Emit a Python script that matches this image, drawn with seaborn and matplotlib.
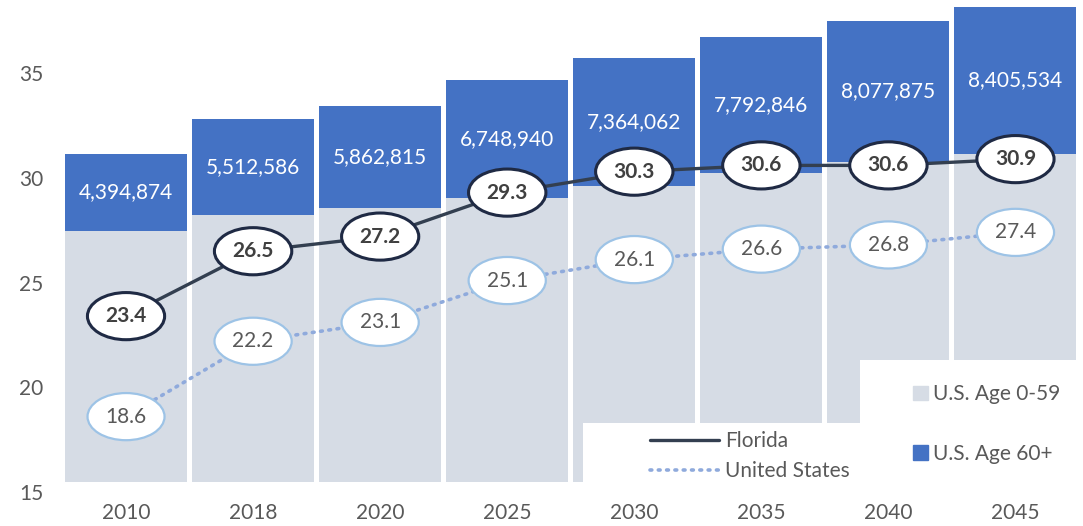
import numpy as np
import pandas as pd
import matplotlib
matplotlib.use('Agg')           # sin pantalla
import matplotlib.pyplot as plt
from matplotlib.lines import Line2D
from matplotlib.patches import Patch, Rectangle
import seaborn as sns

# ── Datos ─────────────────────────────────────────────────
anios       = ['2010', '2018', '2020', '2025', '2030', '2035', '2040', '2045']
pob_60_mas  = [4394874, 5512586, 5862815, 6748940, 7364062, 7792846, 8077875, 8405534]
pob_0_59    = [14390000, 15290000, 15690000, 16280000, 16940000, 17680000, 18320000, 18800000]
pct_florida = [23.4, 26.5, 27.2, 29.3, 30.3, 30.6, 30.6, 30.9]
pct_eeuu    = [18.6, 22.2, 23.1, 25.1, 26.1, 26.6, 26.8, 27.4]

df = pd.DataFrame({'anio': anios, 'menor60': pob_0_59, 'mayor60': pob_60_mas,
                   'florida': pct_florida, 'eeuu': pct_eeuu})
df['total'] = df['menor60'] + df['mayor60']

# ── Estilo ────────────────────────────────────────────────
sns.set_theme(style='white')
plt.rcParams['font.family'] = ['Lato', 'DejaVu Sans']

AZUL     = '#4472C4'
GRIS     = '#D6DCE5'
FL_LINEA = '#333F50'
FL_BORDE = '#1F2A44'
US_LINEA = '#8FAADC'
US_BORDE = '#9DC3E6'
TEXTO    = '#595959'

W, H = 1083, 526
fig = plt.figure(figsize=(W / 100, H / 100), dpi=100)
ax = fig.add_axes([62.5 / W, 1 - 492 / H, 1016.5 / W, 492 / H])
ax2 = ax.twinx()

# ── Barras (eje secundario, población) ────────────────────
sns.barplot(data=df, x='anio', y='total', color=AZUL, saturation=1,
            width=0.96, linewidth=0, ax=ax2)
sns.barplot(data=df, x='anio', y='menor60', color=GRIS, saturation=1,
            width=0.96, linewidth=0, ax=ax2)
for i, (b, s) in enumerate(zip(pob_0_59, pob_60_mas)):
    ax2.text(i, b + s / 2, f'{s:,}', ha='center', va='center',
             color='white', fontsize=15)
ax2.set_ylim(-0.573e6, 27.6e6)
ax2.axis('off')

# ── Líneas (eje principal, %) ─────────────────────────────
ax.set_zorder(ax2.get_zorder() + 1)
ax.patch.set_visible(False)
pos = np.arange(len(anios))
sns.lineplot(x=pos, y=df['florida'], color=FL_LINEA, linewidth=2.4, ax=ax)
sns.lineplot(x=pos, y=df['eeuu'], color=US_LINEA, linewidth=2.6,
             linestyle=(0, (0.5, 1.8)), dash_capstyle='round', ax=ax)

for i, v in enumerate(pct_florida):
    ax.text(i, v, f'{v:.1f}', ha='center', va='center', fontsize=15,
            color='#404040', fontweight='bold', zorder=6,
            bbox=dict(boxstyle='ellipse,pad=0.32', fc='white', ec=FL_BORDE, lw=2.2))
for i, v in enumerate(pct_eeuu):
    ax.text(i, v, f'{v:.1f}', ha='center', va='center', fontsize=15,
            color=TEXTO, zorder=6,
            bbox=dict(boxstyle='ellipse,pad=0.32', fc='white', ec=US_BORDE, lw=1.6))

ax.set_xlim(-0.5, len(anios) - 0.5)
ax.set_ylim(15, 38.5)
ax.set_yticks([15, 20, 25, 30, 35])
ax.set_xticks(pos)
ax.set_xticklabels(anios)
ax.set_xlabel('')
ax.set_ylabel('')
ax.tick_params(axis='both', length=0, labelsize=15, labelcolor=TEXTO)
ax.tick_params(axis='y', pad=14)
ax.tick_params(axis='x', pad=8)
for sp in ax.spines.values():
    sp.set_visible(False)

# ── Leyendas (cajas blancas sobre las barras) ─────────────
ax.add_patch(Rectangle((583 / W, 1 - 482 / H), (860 - 583) / W, (482 - 423) / H,
                       transform=fig.transFigure, fc='white', ec='none',
                       zorder=4, clip_on=False))
ax.add_patch(Rectangle((860 / W, 1 - 482 / H), (W - 860) / W, (482 - 360) / H,
                       transform=fig.transFigure, fc='white', ec='none',
                       zorder=4, clip_on=False))

h_lineas = [Line2D([], [], color=FL_LINEA, lw=2.4),
            Line2D([], [], color=US_LINEA, lw=2.6, linestyle=(0, (0.5, 1.8)),
                   dash_capstyle='round')]
leg1 = ax.legend(h_lineas, ['Florida', 'United States'], loc='upper left',
                 bbox_to_anchor=(640 / W, 1 - 421 / H), bbox_transform=fig.transFigure,
                 frameon=False, borderpad=0, handlelength=3.3, handletextpad=0.3,
                 labelspacing=0.45, fontsize=15, labelcolor=TEXTO)
ax.add_artist(leg1)

h_barras = [Patch(color=GRIS), Patch(color=AZUL)]
ax.legend(h_barras, ['U.S. Age 0-59', 'U.S. Age 60+'], loc='upper left',
          bbox_to_anchor=(903 / W, 1 - 374 / H), bbox_transform=fig.transFigure,
          frameon=False, borderpad=0, handlelength=0.7, handleheight=0.7,
          handletextpad=0.25, labelspacing=1.9, fontsize=15, labelcolor=TEXTO)

fig.savefig('out.png', dpi=100)
